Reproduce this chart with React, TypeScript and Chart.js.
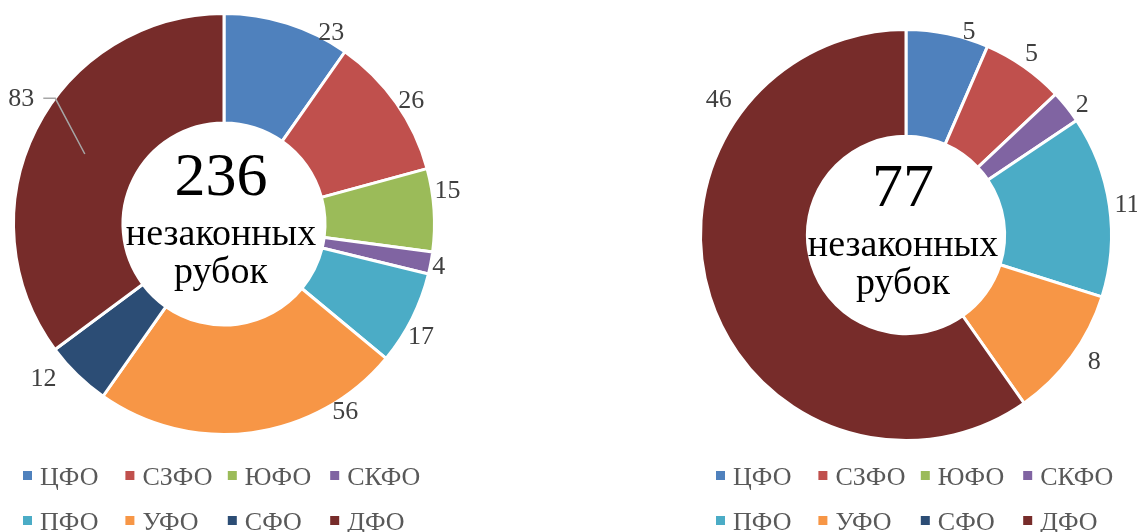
import React, { useEffect, useRef } from "react";
import { Chart, registerables } from "chart.js";

Chart.register(...registerables);

// ---------- data ----------
const categories = ["ЦФО", "СЗФО", "ЮФО", "СКФО", "ПФО", "УФО", "СФО", "ДФО"];
const leftValues = [23, 26, 15, 4, 17, 56, 12, 83];
const rightValues = [5, 5, 0, 2, 11, 8, 0, 46];
const centerCaption = ["незаконных", "рубок"];

// ---------- styles / placement ----------
const colors = ["#4F81BD", "#C0504D", "#9BBB59", "#8064A2", "#4BACC6", "#F79646", "#2C4D75", "#772C2A"];
// label placement: degrees clockwise from top, distance from centre (px)
const leftLabelAngles = [29.3, 56.7, 81.6, 101.3, 119.8, 147.2, 229.3, 301.6];
const leftLabelDist = [219, 224, 226, 219, 227, 224, 238, 238];
const leftLeader = [false, false, false, false, false, false, false, true];
const rightLabelAngles = [17.3, 34.8, 0, 53.6, 82.3, 124, 0, 305.8];
const rightLabelDist = [212, 220, 0, 219, 223, 227, 0, 231];
const rightLeader = [false, false, false, false, false, false, false, false];

const FONT = '"Liberation Serif", "Times New Roman", serif';

type DonutProps = {
  values: number[];
  left: number;
  width: number;
  padding: { left: number; top: number; right: number; bottom: number };
  angles: number[];
  dists: number[];
  leaders: boolean[];
  legendX: number;
};

function Donut({ values, left, width, padding, angles, dists, leaders, legendX }: DonutProps) {
  const ref = useRef<HTMLCanvasElement | null>(null);
  useEffect(() => {
    if (!ref.current) return;
    const total = values.reduce((a, b) => a + b, 0);
    const plugin = {
      id: "donutDecor",
      afterDraw(chart: any) {
        const ctx = chart.ctx as CanvasRenderingContext2D;
        const arcs = chart.getDatasetMeta(0).data as any[];
        const cx = arcs[0].x;
        const cy = arcs[0].y;
        ctx.save();
        // data labels
        ctx.font = `26px ${FONT}`;
        ctx.fillStyle = "#404040";
        ctx.textAlign = "center";
        ctx.textBaseline = "middle";
        values.forEach((v, i) => {
          if (!v) return;
          const a = (angles[i] * Math.PI) / 180;
          const x = cx + dists[i] * Math.sin(a);
          const y = cy - dists[i] * Math.cos(a);
          ctx.fillText(String(v), x, y);
          if (leaders[i]) {
            const arc = arcs[i];
            const mid = (arc.startAngle + arc.endAngle) / 2;
            const r = (arc.innerRadius + arc.outerRadius) / 2;
            const px = cx + r * Math.cos(mid);
            const py = cy + r * Math.sin(mid);
            ctx.strokeStyle = "#A6A6A6";
            ctx.lineWidth = 1.5;
            ctx.beginPath();
            ctx.moveTo(x + 22, y - 1);
            ctx.lineTo(x + 34, y - 1);
            ctx.lineTo(px, py);
            ctx.stroke();
          }
        });
        // centre text
        ctx.fillStyle = "#000000";
        ctx.textBaseline = "alphabetic";
        ctx.font = `62px ${FONT}`;
        ctx.fillText(String(total), cx - 3, cy - 29);
        ctx.font = `38px ${FONT}`;
        ctx.fillText(centerCaption[0], cx - 3, cy + 21);
        ctx.fillText(centerCaption[1], cx - 3, cy + 59);
        // legend
        ctx.font = `26px ${FONT}`;
        ctx.textAlign = "left";
        categories.forEach((c, i) => {
          const col = i % 4;
          const row = Math.floor(i / 4);
          const mx = legendX + col * 102.4;
          const baseline = 485 + row * 45;
          ctx.fillStyle = colors[i];
          ctx.fillRect(mx, baseline - 14, 9, 9);
          ctx.fillStyle = "#595959";
          ctx.fillText(c, mx + 17, baseline);
        });
        ctx.restore();
      },
    };
    const chart = new Chart(ref.current, {
      type: "doughnut",
      data: {
        labels: categories,
        datasets: [
          {
            data: values,
            backgroundColor: colors,
            borderColor: "#FFFFFF",
            borderWidth: 3,
            hoverOffset: 0,
            offset: 0,
          },
        ],
      },
      options: {
        responsive: false,
        animation: false,
        devicePixelRatio: 1,
        events: [],
        cutout: "48%",
        layout: { padding },
        plugins: {
          legend: { display: false },
          tooltip: { enabled: false },
        },
      },
      plugins: [plugin],
    } as any);
    let alive = true;
    const fonts = (document as any).fonts;
    if (fonts && fonts.load) {
      Promise.all([
        fonts.load(`26px "Liberation Serif"`, "ЦФО 0123456789"),
        fonts.load(`62px "Liberation Serif"`, "0123456789"),
      ])
        .then(() => {
          if (alive) chart.update();
        })
        .catch(() => {});
    }
    return () => {
      alive = false;
      chart.destroy();
    };
  }, []);
  return (
    <canvas
      ref={ref}
      width={width}
      height={532}
      style={{ position: "absolute", left, top: 0, width, height: 532 }}
    />
  );
}

export default function App() {
  return (
    <div style={{ position: "absolute", left: 0, top: 0, width: 1137, height: 532, background: "#fff", overflow: "hidden" }}>
      <span style={{ fontFamily: '"Liberation Serif"', position: "absolute", left: -9999, top: 0 }}>ЦФО 0123</span>
      <Donut
        values={leftValues}
        left={0}
        width={560}
        padding={{ left: 12, top: 12, right: 124, bottom: 96 }}
        angles={leftLabelAngles}
        dists={leftLabelDist}
        leaders={leftLeader}
        legendX={23}
      />
      <Donut
        values={rightValues}
        left={568}
        width={569}
        padding={{ left: 131, top: 28, right: 24, bottom: 90 }}
        angles={rightLabelAngles}
        dists={rightLabelDist}
        leaders={rightLeader}
        legendX={148}
      />
    </div>
  );
}
